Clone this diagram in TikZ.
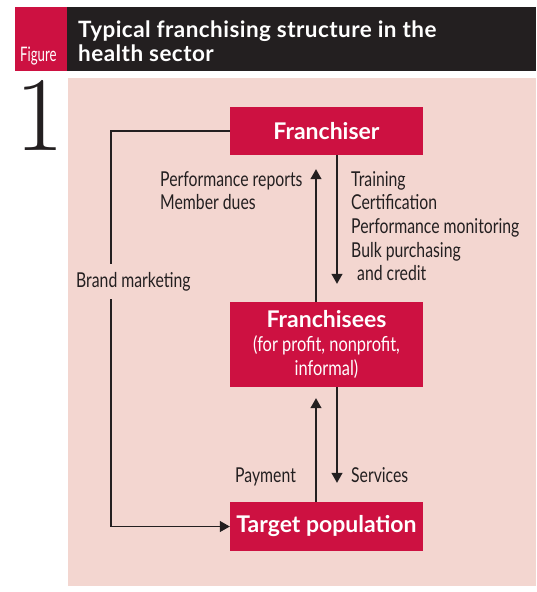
\documentclass[tikz,border=0pt]{standalone}
\usepackage{fontspec}
\usetikzlibrary{arrows.meta}
\newfontfamily\labfont[FakeStretch=0.77]{Lato}
\newfontfamily\boxfont[FakeStretch=0.80]{Lato}
\newfontfamily\bboxfont{Lato}
\newfontfamily\ttlfont[LetterSpace=2]{Lato}
\newfontfamily\figfont[FakeStretch=0.66]{Lato}
\definecolor{fred}{HTML}{CD1141}
\definecolor{fpink}{HTML}{F3D6D0}
\definecolor{fdark}{HTML}{231F20}
\tikzset{
  x=1pt, y=-1pt,
  box/.style={fill=fred, text=white, inner sep=0pt, minimum width=193pt, align=center},
  boxbold/.style={font=\bboxfont\bfseries\fontsize{23}{24}\selectfont},
  lab/.style={inner sep=0pt, align=left, font=\labfont\fontsize{20.5}{23.7}\selectfont, text=fdark},
  arr/.style={draw=fdark, line width=1.3pt, -{Triangle[width=11pt,length=10pt]}}
}
\begin{document}
\begin{tikzpicture}
\useasboundingbox (0,0) rectangle (536,592);
% header
\fill[fred] (15,7) rectangle (67,71);
\fill[fdark] (67,7) rectangle (536,71);
\node[inner sep=0pt, anchor=base west, text=white, font=\figfont\fontsize{20}{20}\selectfont] (fig) at (20,61) {Figure};
\node[inner sep=0pt, anchor=base west, text=white, align=left, font=\ttlfont\bfseries\fontsize{22.5}{24.5}\selectfont] (title) at (78,61.5) {Typical franchising structure in the\\health sector};
\node[inner sep=0pt, anchor=base, text=fdark, font=\fontsize{106}{106}\selectfont] (num) at (40,150) {1};
% pink panel
\fill[fpink] (68,78) rectangle (536,586);
% boxes
\node[box, boxbold, minimum height=48pt] (fr) at (326.5,131) {Franchiser};
\node[box, minimum height=85pt, font=\boxfont\fontsize{20.5}{23.7}\selectfont] (fe) at (326.5,344.5) {\textbf{\bboxfont\fontsize{23}{24}\selectfont Franchisees}\\(for profit, nonprofit,\\informal)};
\node[box, boxbold, minimum height=49pt] (tp) at (326.5,526.5) {Target population};
% arrows
\draw[arr, shorten >=14pt] ([xshift=-10.5pt]fe.north) -- ([xshift=-10.5pt]fr.south);
\draw[arr, shorten >=18pt] ([xshift=10.5pt]fr.south) -- ([xshift=10.5pt]fe.north);
\draw[arr, shorten >=11pt] ([xshift=-10.5pt]tp.north) -- ([xshift=-10.5pt]fe.south);
\draw[arr, shorten >=19pt] ([xshift=10.5pt]fe.south) -- ([xshift=10.5pt]tp.north);
\coordinate (bl) at (111,0);
\draw[arr] (fr.west) -- (fr.west -| bl) -- (tp.west -| bl) -- (tp.west);
% labels
\node[lab, anchor=base west, fill=fpink, inner ysep=8pt, inner xsep=0pt] (bm) at (76,287) {Brand marketing};
\node[lab, anchor=base west] (up) at (160,209.7) {Performance reports\\Member dues};
\node[lab, anchor=base west] (down) at (351,280.8) {Training\\Certification\\Performance monitoring\\Bulk purchasing\\\hspace*{6pt}and credit};
\node[lab, anchor=base west] (pay) at (235,482) {Payment};
\node[lab, anchor=base west] (serv) at (351,482) {Services};
\end{tikzpicture}
\end{document}
